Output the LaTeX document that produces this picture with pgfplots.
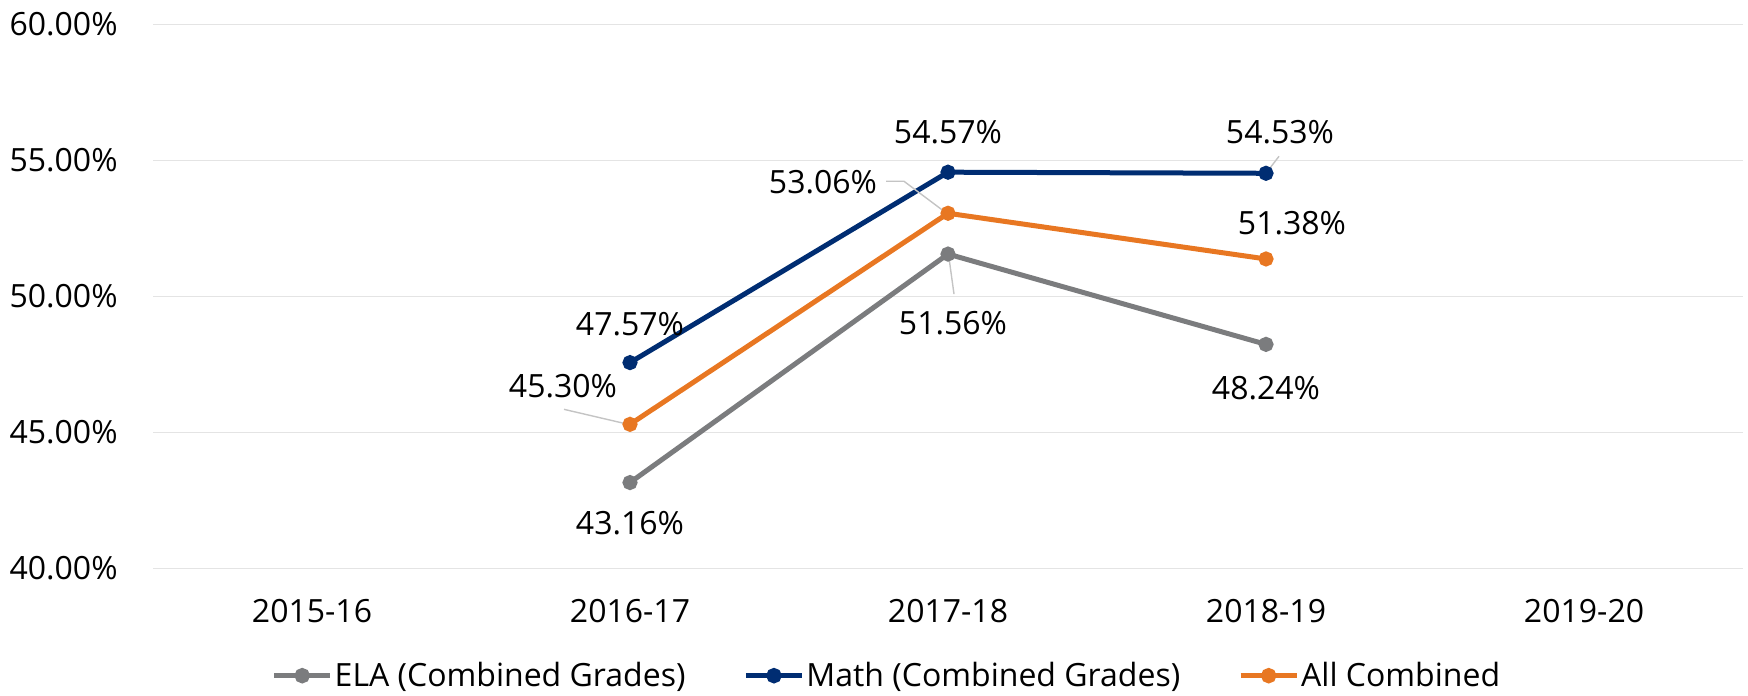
\documentclass[border=0pt]{standalone}
\usepackage{fontspec}
\setmainfont{Open Sans}
\usepackage{pgfplots}
\pgfplotsset{compat=1.18}
\definecolor{elac}{HTML}{7B7C7E}
\definecolor{mathc}{HTML}{002D72}
\definecolor{allc}{HTML}{E87722}
\definecolor{gridc}{HTML}{E4E4E4}
\definecolor{leader}{HTML}{C4C4C4}
\begin{document}
\begin{tikzpicture}[font=\fontsize{16}{19}\selectfont]
\useasboundingbox (-76.5pt,-63.5pt) rectangle (797.5pt,284.25pt);
\begin{axis}[
  scale only axis, width=795pt, height=272pt,
  xmin=-0.5, xmax=4.5, ymin=40, ymax=60,
  xtick={0,1,2,3,4},
  xticklabels={2015-16,2016-17,2017-18,2018-19,2019-20},
  ytick={40,45,50,55,60},
  /pgf/number format/assume math mode=true,
  yticklabel={\pgfmathprintnumber[fixed,fixed zerofill,precision=2]{\tick}\%},
  yticklabel style={inner sep=0pt, anchor=east, xshift=-17.5pt},
  xticklabel style={inner sep=0pt, anchor=center, yshift=-21.5pt},
  axis line style={draw=none},
  major tick length=0pt,
  ymajorgrids, grid style={gridc, line width=0.8pt},
  clip=false,
  legend columns=3,
  legend style={draw=none, fill=none, at={(0.4616,-0.197)}, anchor=center,
    /tikz/every even column/.append style={column sep=28pt},
    inner sep=0pt, nodes={inner sep=1pt}},
  legend image code/.code={
    \draw[#1, line width=2.5pt, mark=none] (0pt,0pt) -- (28pt,0pt);
    \fill[#1] (14pt,0pt) circle (2.6pt);
  },
  every axis plot/.append style={line width=2.5pt, mark=*, mark size=2.5pt},
]
\addplot[elac, mark options={elac}] coordinates {(1,43.16) (2,51.56) (3,48.24)};
\addlegendentry{ELA (Combined Grades)}
\addplot[mathc, mark options={mathc}] coordinates {(1,47.57) (2,54.57) (3,54.53)};
\addlegendentry{Math (Combined Grades)}
\addplot[allc, mark options={allc}] coordinates {(1,45.30) (2,53.06) (3,51.38)};
\addlegendentry{All Combined}

% leader lines
\draw[leader, line width=0.7pt] ([shift={(-33pt,7.5pt)}]axis cs:1,45.30) -- ([shift={(-3pt,0.5pt)}]axis cs:1,45.30);
\draw[leader, line width=0.7pt] ([shift={(-31pt,16pt)}]axis cs:2,53.06) -- ([shift={(-22pt,16pt)}]axis cs:2,53.06) -- ([shift={(-2pt,1pt)}]axis cs:2,53.06);
\draw[leader, line width=0.7pt] ([shift={(0.5pt,-2pt)}]axis cs:2,51.56) -- ([shift={(3pt,-20pt)}]axis cs:2,51.56);
\draw[leader, line width=0.7pt] ([shift={(1.5pt,2pt)}]axis cs:3,54.53) -- ([shift={(6.5pt,8.5pt)}]axis cs:3,54.53);

% data labels
\node[inner sep=0pt] at ([shift={(0pt,-20.5pt)}]axis cs:1,43.16) {43.16\%};
\node[inner sep=0pt] at ([shift={(2.5pt,-34.5pt)}]axis cs:2,51.56) {51.56\%};
\node[inner sep=0pt] at ([shift={(0pt,-22pt)}]axis cs:3,48.24) {48.24\%};
\node[inner sep=0pt] at ([shift={(0pt,19pt)}]axis cs:1,47.57) {47.57\%};
\node[inner sep=0pt] at ([shift={(0pt,20pt)}]axis cs:2,54.57) {54.57\%};
\node[inner sep=0pt] at ([shift={(7pt,20.5pt)}]axis cs:3,54.53) {54.53\%};
\node[inner sep=0pt] at ([shift={(-33.5pt,19pt)}]axis cs:1,45.30) {45.30\%};
\node[inner sep=0pt] at ([shift={(-62.5pt,15.5pt)}]axis cs:2,53.06) {53.06\%};
\node[inner sep=0pt] at ([shift={(13pt,18pt)}]axis cs:3,51.38) {51.38\%};
\end{axis}
\end{tikzpicture}
\end{document}
